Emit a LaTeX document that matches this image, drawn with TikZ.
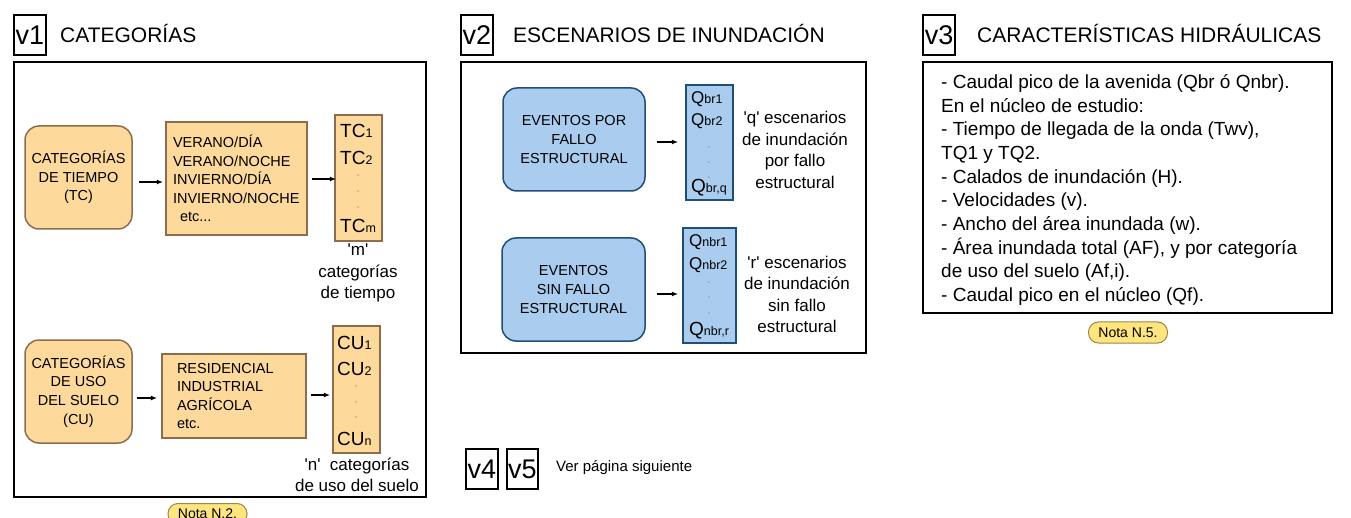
\documentclass[tikz,border=0pt]{standalone}
\usepackage{fontspec}
\setmainfont{Liberation Sans}
\usetikzlibrary{arrows.meta}
\definecolor{morange}{HTML}{FDD99B}
\definecolor{mbrown}{HTML}{8C6E4E}
\definecolor{mblue}{HTML}{AACDEF}
\definecolor{mnavy}{HTML}{1F4E79}
\definecolor{myellow}{HTML}{FFE57F}
\definecolor{mnote}{HTML}{9C8646}
\newcommand{\tagfont}{\fontsize{27}{30}\selectfont}
\newcommand{\titlefont}{\fontsize{21}{24}\selectfont}
\newcommand{\boxfont}{\fontsize{14.5}{18.6}\selectfont}
\newcommand{\labfont}{\fontsize{17}{21.4}\selectfont}
\newcommand{\colfont}{\fontsize{19}{19}\selectfont}
\newcommand{\qfont}{\fontsize{17}{17}\selectfont}
\newcommand{\lowsub}[1]{{\fontsize{12.5}{12.5}\selectfont #1}}
\newcommand{\sq}{\textquotesingle}
\tikzset{tag/.style = {draw, line width=1.5pt, minimum width=32pt, minimum height=40pt, inner sep=0, font=\tagfont}}
\tikzset{title/.style = {anchor=base west, inner sep=0, font=\titlefont}}
\tikzset{frame/.style = {draw, line width=2pt}}
\tikzset{rbox/.style = {draw=mbrown, fill=morange, line width=1.5pt, rounded corners=14pt,
                        align=center, inner sep=0, font=\boxfont}}
\tikzset{sbox/.style = {draw=mbrown, fill=morange, line width=1.5pt, align=left, font=\boxfont}}
\tikzset{colbox/.style = {draw=mbrown, fill=morange, line width=1.5pt, inner sep=0}}
\tikzset{bbox/.style = {draw=mnavy, fill=mblue, line width=1.5pt, rounded corners=14pt,
                        align=center, inner sep=0, font=\boxfont}}
\tikzset{qbox/.style = {draw=mnavy, fill=mblue, line width=1.5pt, inner sep=0}}
\tikzset{item/.style = {anchor=base west, inner sep=0}}
\tikzset{dot/.style = {circle, fill=black!60, inner sep=0, minimum size=1.4pt}}
\tikzset{lab/.style = {align=center, inner sep=0, font=\labfont}}
\tikzset{note/.style = {draw=mnote, fill=myellow, line width=1pt, rounded corners=10pt, inner sep=0,
                        minimum width=79pt, minimum height=21pt, font=\fontsize{14}{14}\selectfont}}
\tikzset{arr/.style = {-{Latex[length=6.5pt,width=5pt]}, line width=1.3pt}}

\begin{document}
\begin{tikzpicture}[x=1pt, y=-1pt]
  \clip (0, 0) rectangle (1351, 518);
  \fill [white] (0, 0) rectangle (1351, 518);

  % v1
  \node [tag] (v1) at (30, 35) {v1};
  \node [title] (v1t) at (60, 43) {CATEGORÍAS};
  \draw [frame] (14, 62) rectangle (426, 497);

  \node [rbox, minimum width=107pt, minimum height=103pt] (tc) at (78.5, 177.5)
        {CATEGORÍAS\\DE TIEMPO\\(TC)};
  \node [sbox, minimum width=141pt, minimum height=113pt, inner sep=7pt, text width=127pt] (tlist) at (236.5, 178.5)
        {VERANO/DÍA\\VERANO/NOCHE\\INVIERNO/DÍA\\INVIERNO/NOCHE\\\hspace*{7pt}etc...};
  \node [colbox, minimum width=47pt, minimum height=126pt] (tcol) at (358.5, 178) {};
  \node [item, font=\colfont] (tc1) at (340, 138) {TC\lowsub{1}};
  \node [item, font=\colfont] (tc2) at (340, 165) {TC\lowsub{2}};
  \node [item, font=\colfont] (tcm) at (340, 233) {TC\lowsub{m}};
  \foreach \y in {175, 191, 207}
    \node [dot] at (358, \y) {};
  \node [lab] (tclab) at (358, 273) {\sq m\sq\\categorías\\de tiempo};
  \draw [arr] ([xshift=6pt, yshift=-4.5pt] tc.east) -- ([xshift=-2pt, yshift=-3.5pt] tlist.west);
  \draw [arr] ([xshift=4pt, yshift=-0.5pt] tlist.east) -- ([xshift=2pt, yshift=-1pt] tcol.west);

  \node [rbox, minimum width=107pt, minimum height=103pt] (cu) at (78.5, 391.5)
        {CATEGORÍAS\\DE USO\\DEL SUELO\\(CU)};
  \node [sbox, minimum width=144pt, minimum height=84pt, inner xsep=15pt, text width=114pt] (culist) at (234, 396)
        {RESIDENCIAL\\INDUSTRIAL\\AGRÍCOLA\\etc.};
  \node [colbox, minimum width=47pt, minimum height=127pt] (cucol) at (356.5, 389.5) {};
  \node [item, font=\colfont] (cu1) at (337, 349) {CU\lowsub{1}};
  \node [item, font=\colfont] (cu2) at (337, 375) {CU\lowsub{2}};
  \node [item, font=\colfont] (cun) at (337, 445) {CU\lowsub{n}};
  \foreach \y in {386, 402, 417}
    \node [dot] at (356, \y) {};
  \node [lab] (culab) at (357, 475) {\sq n\sq\ \ categorías\\de uso del suelo};
  \draw [arr] ([xshift=4pt, yshift=-6.5pt] cu.east) -- ([xshift=-4pt, yshift=-2pt] culist.west);
  \draw [arr] ([xshift=4pt, yshift=1pt] culist.east) -- ([xshift=-2pt, yshift=-5.5pt] cucol.west);

  \node [note] (n2) at (207.5, 514) {Nota N.2.};

  % v2
  \node [tag] (v2) at (477, 35) {v2};
  \node [title] (v2t) at (513, 43) {ESCENARIOS DE INUNDACIÓN};
  \draw [frame] (461, 62) rectangle (866, 353);

  \node [bbox, minimum width=142pt, minimum height=103pt] (ev1) at (574, 139.5)
        {EVENTOS POR\\FALLO\\ESTRUCTURAL};
  \node [qbox, minimum width=47pt, minimum height=115pt] (qcol1) at (709.5, 142.5) {};
  \node [item, font=\qfont] (q1) at (691, 103.5) {Q\lowsub{br1}};
  \node [item, font=\qfont] (q2) at (691, 126) {Q\lowsub{br2}};
  \node [item, font=\colfont] (qq) at (691, 193) {Q\lowsub{br,q}};
  \foreach \y in {147, 162, 177}
    \node [dot] at (709, \y) {};
  \node [lab] (qlab) at (795, 150) {\sq q\sq\ escenarios\\de inundación\\por fallo\\estructural};
  \draw [arr] ([xshift=11pt, yshift=-2.5pt] ev1.east) -- ([xshift=-7pt, yshift=0.5pt] qcol1.west);

  \node [bbox, minimum width=143pt, minimum height=103pt] (ev2) at (573.5, 289.5)
        {EVENTOS\\SIN FALLO\\ESTRUCTURAL};
  \node [qbox, minimum width=53pt, minimum height=115pt] (qcol2) at (709.5, 285.5) {};
  \node [item, font=\qfont] (r1) at (689, 247) {Q\lowsub{nbr1}};
  \node [item, font=\qfont] (r2) at (689, 270) {Q\lowsub{nbr2}};
  \node [item, font=\colfont] (rr) at (689, 336) {Q\lowsub{nbr,r}};
  \foreach \y in {282, 297, 313}
    \node [dot] at (709, \y) {};
  \node [lab] (rlab) at (797, 294.5) {\sq r\sq\ escenarios\\de inundación\\sin fallo\\estructural};
  \draw [arr] ([xshift=11pt, yshift=-4.5pt] ev2.east) -- ([xshift=-4pt, yshift=-8.5pt] qcol2.west);

  % v3
  \node [tag] (v3) at (939, 35) {v3};
  \node [title] (v3t) at (977, 43) {CARACTERÍSTICAS HIDRÁULICAS};
  \draw [frame] (923, 62) rectangle (1332, 313);
  \node [anchor=west, inner sep=0, align=left, font=\fontsize{19}{23.7}\selectfont] (v3list) at (941, 190)
        {- Caudal pico de la avenida (Qbr ó Qnbr).\\
         En el núcleo de estudio:\\
         - Tiempo de llegada de la onda (Twv),\\
         TQ1 y TQ2.\\
         - Calados de inundación (H).\\
         - Velocidades (v).\\
         - Ancho del área inundada (w).\\
         - Área inundada total (AF), y por categoría\\
         de uso del suelo (Af,i).\\
         - Caudal pico en el núcleo (Qf).};
  \node [note] (n5) at (1128, 332.5) {Nota N.5.};

  % v4, v5
  \node [tag] (v4) at (482, 469) {v4};
  \node [tag, minimum width=31pt] (v5) at (522.5, 469) {v5};
  \node [anchor=west, inner sep=0, font=\fontsize{15}{15}\selectfont] (ver) at (556, 468) {Ver página siguiente};
\end{tikzpicture}
\end{document}
